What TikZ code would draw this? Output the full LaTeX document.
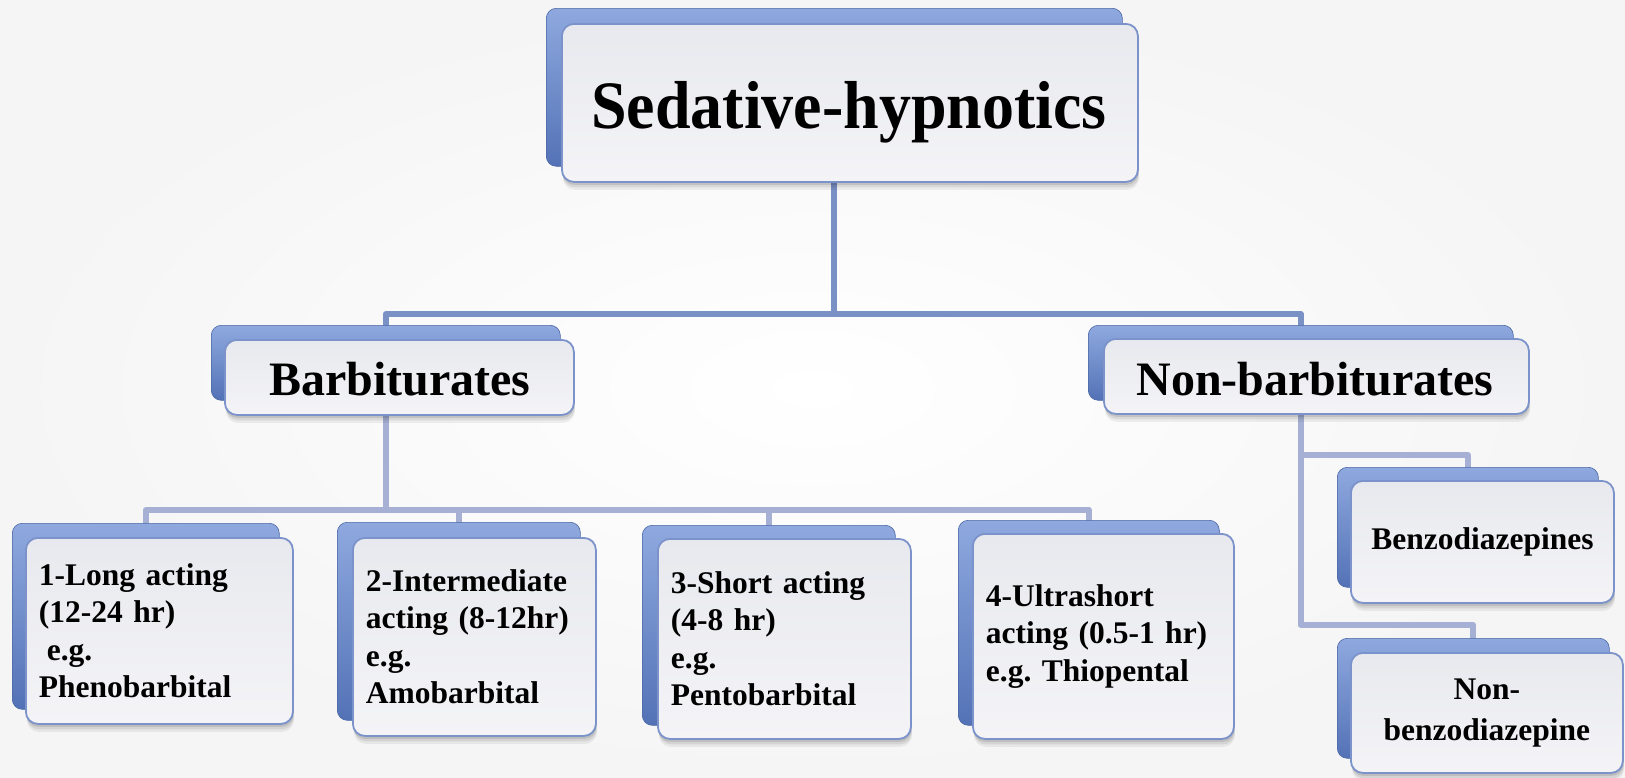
\documentclass[tikz,border=0pt]{standalone}
\usepackage{fontspec}
\setmainfont{Liberation Serif}
\usetikzlibrary{shadows}
\pgfdeclarelayer{bglayer}
\pgfdeclarelayer{connlayer}
\pgfsetlayers{bglayer,connlayer,main}
\definecolor{backtop}{HTML}{8FA9DF}
\definecolor{backbot}{HTML}{5372B6}
\definecolor{fronttop}{HTML}{E8E9EE}
\definecolor{frontbot}{HTML}{F4F4F7}
\definecolor{frontedge}{HTML}{7B93CA}
\definecolor{conndark}{HTML}{7A91C6}
\definecolor{connlight}{HTML}{A5B0D4}
\definecolor{bgedge}{HTML}{F5F5F5}
\tikzset{
  backbox/.style={rectangle, rounded corners=10pt, top color=backtop, bottom color=backbot,
    draw=backbot!90!black, line width=0.6pt, anchor=north west, inner sep=0pt},
  frontbox/.style={rectangle, rounded corners=12pt, top color=fronttop, bottom color=frontbot,
    draw=frontedge, line width=1.8pt, anchor=north west, inner sep=0pt,
    general shadow={fill=black, opacity=0.06, shadow yshift=-8pt, shadow xshift=1pt},
    general shadow={fill=black, opacity=0.08, shadow yshift=-5.5pt, shadow xshift=1pt},
    general shadow={fill=black, opacity=0.10, shadow yshift=-3pt, shadow xshift=0.5pt}},
  childbox/.style={frontbox, inner xsep=13pt, align=left,
    font=\bfseries\frenchspacing\fontsize{31.5}{37.5}\selectfont},
  lbl/.style={anchor=base, inner sep=0pt},
  conndark/.style={draw=conndark, line width=6pt, line join=round},
  connlight/.style={draw=connlight, line width=6pt, line join=round},
}
\begin{document}
\begin{tikzpicture}[x=1pt,y=-1pt]
\begin{pgfonlayer}{bglayer}
\shade[inner color=white, outer color=bgedge] (0,0) rectangle (1625,777);
\end{pgfonlayer}
\useasboundingbox (0,0) rectangle (1625,777);

% top box
\node[backbox, minimum width=576pt, minimum height=158pt] (topB) at (546,8) {};
\node[frontbox, minimum width=576pt, minimum height=158pt] (top) at (561,23) {};
\node[lbl, font=\bfseries\fontsize{64}{70}\selectfont, yscale=1.06] (topT) at (849,128) {Sedative-hypnotics};

% level 2
\node[backbox, minimum width=349pt, minimum height=75pt] (barbB) at (211,325) {};
\node[frontbox, minimum width=349pt, minimum height=75pt] (barb) at (224,339) {};
\node[lbl, font=\bfseries\fontsize{48}{52}\selectfont] (barbT) at (400,395) {Barbiturates};

\node[backbox, minimum width=425pt, minimum height=75pt] (nonbB) at (1088,325) {};
\node[frontbox, minimum width=425pt, minimum height=75pt] (nonb) at (1103,338) {};
\node[lbl, font=\bfseries\fontsize{48}{52}\selectfont] (nonbT) at (1315,395) {Non-barbiturates};

% barbiturate children
\node[backbox, minimum width=267pt, minimum height=186pt] (c1B) at (12,523) {};
\node[childbox, minimum width=267pt, minimum height=186pt, text width=241pt] (c1) at (25,537)
  {1-Long acting\\(12-24 hr)\\\hspace*{0.25em}e.g.\\Phenobarbital};

\node[backbox, minimum width=243pt, minimum height=198pt] (c2B) at (337,522) {};
\node[childbox, minimum width=243pt, minimum height=198pt, text width=217pt] (c2) at (352,537)
  {2-Intermediate\\acting (8-12hr)\\e.g.\\Amobarbital};

\node[backbox, minimum width=253pt, minimum height=200pt] (c3B) at (642,525) {};
\node[childbox, minimum width=253pt, minimum height=200pt, text width=227pt] (c3) at (657,538)
  {3-Short acting\\(4-8 hr)\\e.g.\\Pentobarbital};

\node[backbox, minimum width=261pt, minimum height=205pt] (c4B) at (958,520) {};
\node[childbox, minimum width=261pt, minimum height=205pt, text width=235pt] (c4) at (972,533)
  {4-Ultrashort\\acting (0.5-1 hr)\\e.g. Thiopental};

% non-barbiturate children
\node[backbox, minimum width=261pt, minimum height=120pt] (bzB) at (1337,467) {};
\node[frontbox, minimum width=263pt, minimum height=122pt, align=center,
  font=\bfseries\fontsize{31.5}{37.5}\selectfont] (bz) at (1350,480) {Benzodiazepines};

\node[backbox, minimum width=272pt, minimum height=120pt] (nbzB) at (1337,638) {};
\node[frontbox, minimum width=272pt, minimum height=120pt, align=center,
  font=\bfseries\fontsize{31.5}{41}\selectfont] (nbz) at (1350,652) {Non-\\benzodiazepine};

% connectors
\coordinate (hub1) at (topB.center |- 0,314);
\coordinate (hub2) at (barbB.center |- 0,510);
\coordinate (hub3) at (nonbB.center |- 0,455);
\coordinate (hub4) at (nonbB.center |- 0,625);
\begin{pgfonlayer}{connlayer}
\draw[conndark] (topB.center) -- (hub1);
\draw[conndark] (barbB.center) |- (hub1) -| (nonbB.center);
\draw[connlight] (barbB.center) -- (hub2);
\draw[connlight] (c1B.center) |- (hub2) -| (c4B.center);
\draw[connlight] (c2B.center) -- (c2B.center |- hub2);
\draw[connlight] (c3B.center) -- (c3B.center |- hub2);
\draw[connlight] (nonbB.center) -- (hub4) -| (nbzB.center);
\draw[connlight] (hub3) -| (bzB.center);
\end{pgfonlayer}
\end{tikzpicture}
\end{document}
